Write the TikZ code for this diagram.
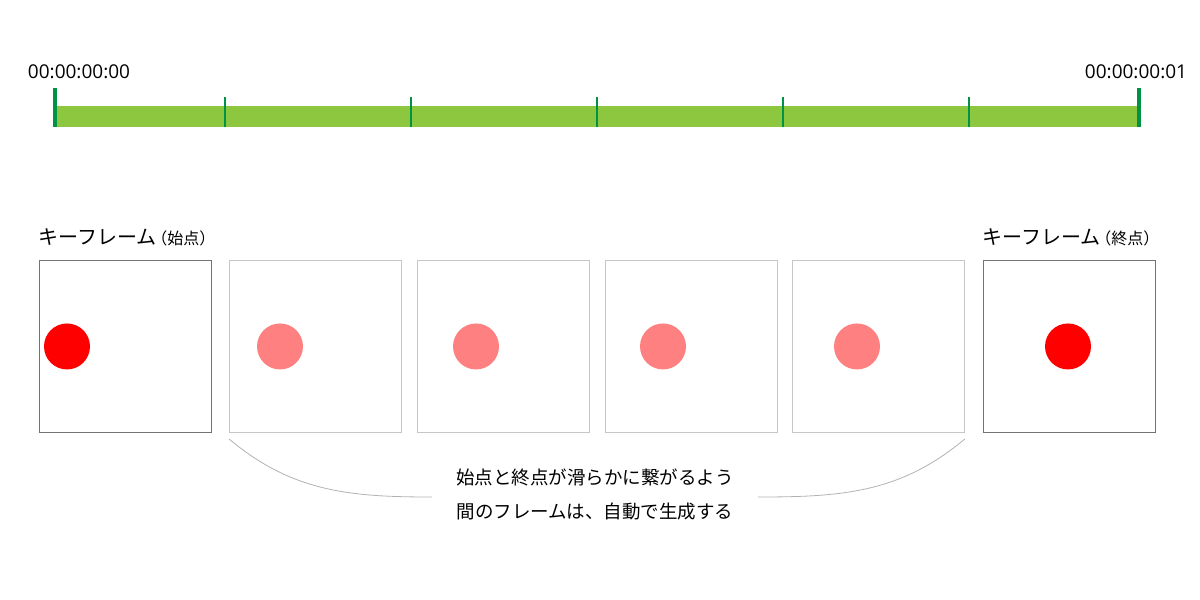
\documentclass[tikz,border=0pt]{standalone}
\usepackage{fontspec}
\setmainfont{Noto Sans CJK JP}
\newfontfamily\tcfont{Open Sans}
\usetikzlibrary{positioning}
\definecolor{bargreen}{HTML}{8DC63F}
\definecolor{tickgreen}{HTML}{009245}
\definecolor{keyred}{HTML}{FF0000}
\definecolor{midred}{HTML}{FF8080}

\begin{document}
\begin{tikzpicture}[
      x=1pt,y=-1pt,
      frame/.style={
         draw=black!22,
         line width=0.9pt,
         inner sep=0pt,
         minimum size=172pt,
         anchor=north west},
      keyframe/.style={frame,draw=black!55},
      ball/.style={circle,inner sep=0pt,minimum size=46pt},
      tick/.style={tickgreen,line width=1.6pt},
      endtick/.style={tickgreen,line width=3.6pt},
      tclabel/.style={font=\tcfont\fontsize{19}{22}\selectfont,inner sep=0pt},
      keylabel/.style={font=\fontsize{20}{22}\selectfont,inner sep=0pt},
      bracket/.style={draw=black!30,line width=0.8pt}
      ]
      \useasboundingbox (0,0) rectangle (1200,600);

      % timeline
      \fill[bargreen] (55,106) rectangle (1139,127);
      \foreach \x in {225,411,597,783,969}
         \draw[tick] (\x,97) -- (\x,127);
      \draw[endtick] (55,88) coordinate (t0) -- (55,127);
      \draw[endtick] (1139,88) coordinate (t1) -- (1139,127);
      \node[tclabel,above=9pt of t0,xshift=24pt] (tc0) {00:00:00:00};
      \node[tclabel,above=9pt of t1,xshift=-3pt] (tc1) {00:00:00:01};

      % frames
      \foreach \n/\x/\c/\s/\col in {% name/left edge/ball offset/style/colour
        f1/39/28/keyframe/keyred,
        f2/229/51/frame/midred,
        f3/417/59/frame/midred,
        f4/605/58/frame/midred,
        f5/792/65/frame/midred,
        f6/983/85/keyframe/keyred}
      {
        \node[\s] (\n) at (\x,260) {};
        \node[ball,fill=\col,right=\c pt of \n.west,anchor=center] (\n b) {};
      }

      \node[keylabel,above right=14pt and -1pt of f1.north west] (k1)
         {キーフレーム\hspace{-5pt}{\fontsize{16}{17}\selectfont （始点）}};
      \node[keylabel,above right=14pt and -1pt of f6.north west] (k6)
         {キーフレーム\hspace{-5pt}{\fontsize{16}{17}\selectfont （終点）}};

      % note
      \node[font=\fontsize{18.5}{34}\selectfont,align=center,inner xsep=24pt,inner ysep=0pt] (note) at (595,494)
         {始点と終点が滑らかに繋がるよう\\間のフレームは、自動で生成する};
      \draw[bracket] ([yshift=-6pt]f2.south west) to[out=-40,in=180] ([yshift=-3pt]note.west);
      \draw[bracket] ([yshift=-6pt]f5.south east) to[out=-140,in=0] ([yshift=-3pt]note.east);

    \end{tikzpicture}
\end{document}
